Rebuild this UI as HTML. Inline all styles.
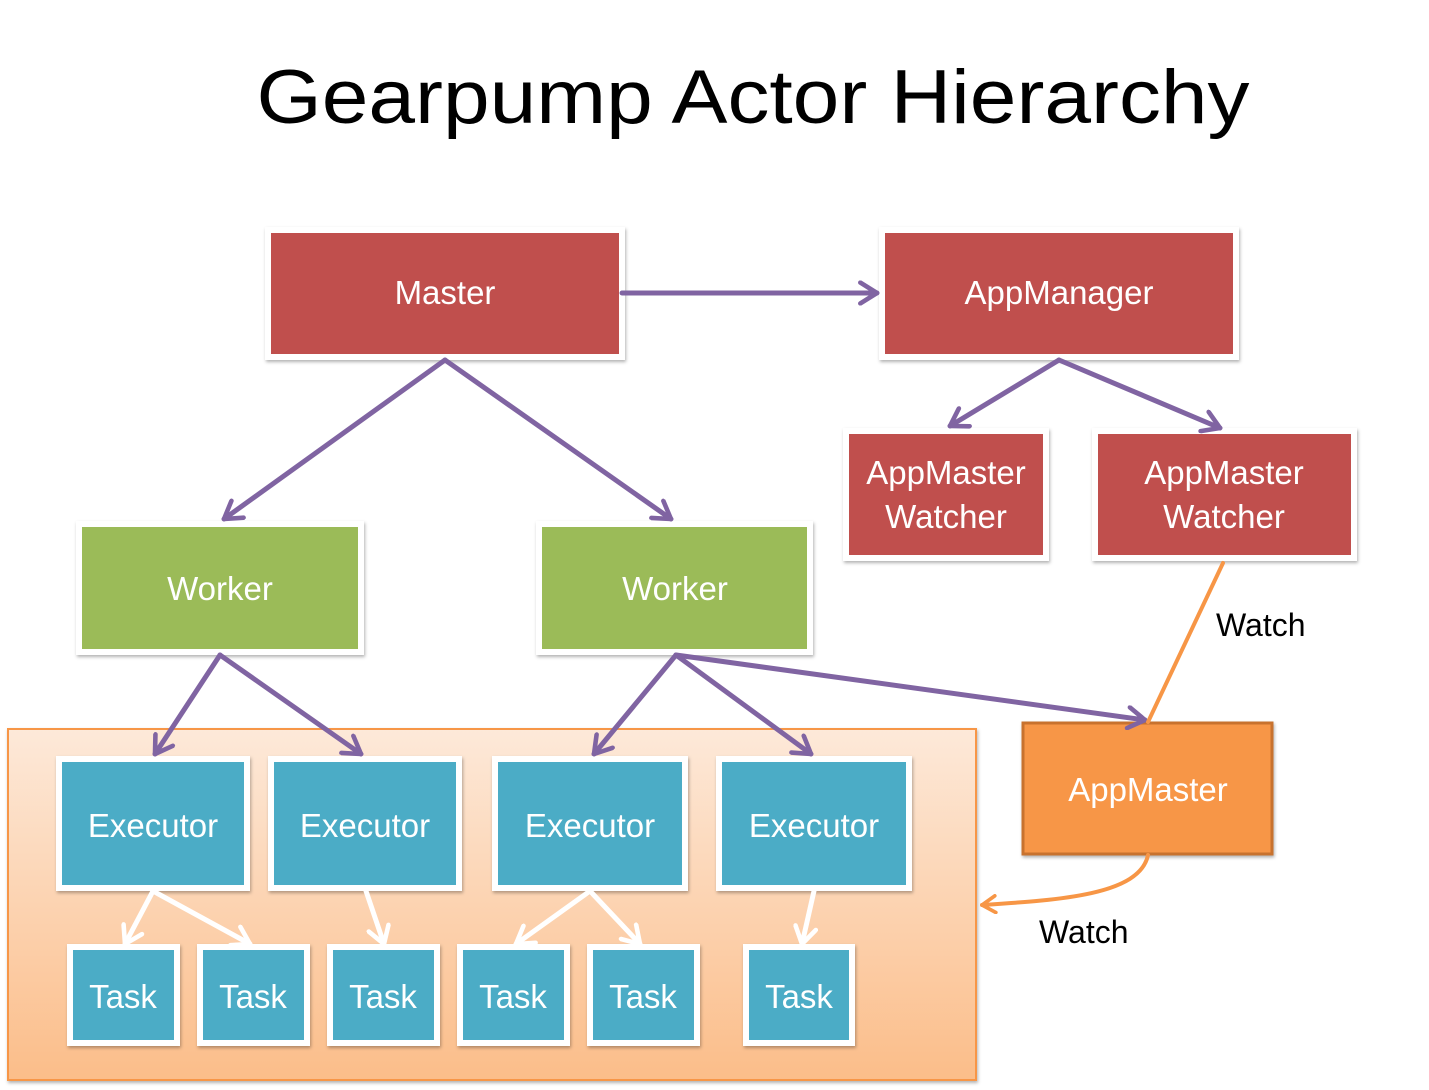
<!DOCTYPE html>
<html><head><meta charset="utf-8"><style>
body{margin:0;background:#fff}
svg{display:block}
text{font-family:"Liberation Sans",sans-serif}
</style></head><body>
<svg width="1429" height="1090" viewBox="0 0 1429 1090" xmlns="http://www.w3.org/2000/svg">
<defs>
<linearGradient id="og" x1="0" y1="0" x2="0" y2="1">
<stop offset="0" stop-color="#fde9d9"/><stop offset="1" stop-color="#fbbd89"/>
</linearGradient>
<marker id="pa" viewBox="0 0 12 12" refX="10" refY="6" markerWidth="5" markerHeight="5" orient="auto" markerUnits="strokeWidth">
<polyline points="2,1 10,6 2,11" fill="none" stroke="#8064a2" stroke-width="2.2" stroke-linecap="round" stroke-linejoin="round"/>
</marker>
<marker id="wa" viewBox="0 0 12 12" refX="10" refY="6" markerWidth="5" markerHeight="5" orient="auto" markerUnits="strokeWidth">
<polyline points="2,1 10,6 2,11" fill="none" stroke="#fff" stroke-width="2.2" stroke-linecap="round" stroke-linejoin="round"/>
</marker>
<marker id="oa" viewBox="0 0 12 12" refX="10" refY="6" markerWidth="5" markerHeight="5" orient="auto" markerUnits="strokeWidth">
<polyline points="2,1 10,6 2,11" fill="none" stroke="#f79646" stroke-width="2.2" stroke-linecap="round" stroke-linejoin="round"/>
</marker>
<filter id="sh" x="-10%" y="-10%" width="120%" height="130%"><feDropShadow dx="1" dy="2" stdDeviation="1.5" flood-color="#000" flood-opacity="0.3"/></filter>
</defs>

<text x="753" y="123" font-size="76" text-anchor="middle" textLength="993" lengthAdjust="spacingAndGlyphs" fill="#000">Gearpump Actor Hierarchy</text>

<rect x="8" y="729" width="968" height="351" fill="url(#og)" stroke="#f79646" stroke-width="2" filter="url(#sh)"/>

<g filter="url(#sh)" stroke="#fff" stroke-width="6">
<rect x="268" y="230" width="354" height="127" fill="#c0504d"/>
<rect x="882" y="230" width="354" height="127" fill="#c0504d"/>
<rect x="846" y="431" width="200" height="127" fill="#c0504d"/>
<rect x="1095" y="431" width="259" height="127" fill="#c0504d"/>
<rect x="79" y="524" width="282" height="128" fill="#9bbb59"/>
<rect x="539" y="524" width="271" height="128" fill="#9bbb59"/>
<rect x="59" y="759" width="188" height="129" fill="#4bacc6"/>
<rect x="271" y="759" width="188" height="129" fill="#4bacc6"/>
<rect x="495" y="759" width="190" height="129" fill="#4bacc6"/>
<rect x="719" y="759" width="190" height="129" fill="#4bacc6"/>
<rect x="70" y="947" width="107" height="96" fill="#4bacc6"/>
<rect x="200" y="947" width="107" height="96" fill="#4bacc6"/>
<rect x="330" y="947" width="107" height="96" fill="#4bacc6"/>
<rect x="460" y="947" width="107" height="96" fill="#4bacc6"/>
<rect x="590" y="947" width="107" height="96" fill="#4bacc6"/>
<rect x="746" y="947" width="106" height="96" fill="#4bacc6"/>
</g>
<rect x="1023" y="723" width="249" height="131" fill="#f79646" stroke="#c8722e" stroke-width="3" filter="url(#sh)"/>

<g fill="#fff" font-size="33" text-anchor="middle">
<text x="445" y="304">Master</text>
<text x="1059" y="304">AppManager</text>
<text x="946" y="484">AppMaster</text><text x="946" y="528">Watcher</text>
<text x="1224" y="484">AppMaster</text><text x="1224" y="528">Watcher</text>
<text x="220" y="600">Worker</text>
<text x="675" y="600">Worker</text>
<text x="153" y="837">Executor</text>
<text x="365" y="837">Executor</text>
<text x="590" y="837">Executor</text>
<text x="814" y="837">Executor</text>
<text x="123" y="1008">Task</text>
<text x="253" y="1008">Task</text>
<text x="383" y="1008">Task</text>
<text x="513" y="1008">Task</text>
<text x="643" y="1008">Task</text>
<text x="799" y="1008">Task</text>
<text x="1148" y="801">AppMaster</text>
</g>

<g stroke="#8064a2" stroke-width="5" fill="none" stroke-linecap="round" marker-end="url(#pa)">
<line x1="622" y1="293" x2="877" y2="293"/>
<line x1="445" y1="360" x2="224" y2="519"/>
<line x1="445" y1="360" x2="671" y2="519"/>
<line x1="1059" y1="360" x2="950" y2="426"/>
<line x1="1059" y1="360" x2="1220" y2="428"/>
<line x1="220" y1="655" x2="155" y2="754"/>
<line x1="220" y1="655" x2="361" y2="754"/>
<line x1="676" y1="655" x2="594" y2="754"/>
<line x1="676" y1="655" x2="811" y2="754"/>
<line x1="676" y1="655" x2="1145" y2="720"/>
</g>

<g stroke="#fff" stroke-width="5" fill="none" stroke-linecap="round" marker-end="url(#wa)">
<line x1="153" y1="891" x2="125" y2="944"/>
<line x1="153" y1="891" x2="250" y2="944"/>
<line x1="366" y1="891" x2="384" y2="944"/>
<line x1="590" y1="891" x2="516" y2="944"/>
<line x1="590" y1="891" x2="640" y2="944"/>
<line x1="814" y1="891" x2="802" y2="944"/>
</g>

<g stroke="#f79646" stroke-width="4" fill="none" stroke-linecap="round">
<line x1="1223" y1="563" x2="1148" y2="722"/>
<path d="M1148 855 C1140 895 1060 900 982 905" marker-end="url(#oa)"/>
</g>

<g fill="#000" font-size="32">
<text x="1216" y="636">Watch</text>
<text x="1039" y="943">Watch</text>
</g>
</svg>
</body></html>
